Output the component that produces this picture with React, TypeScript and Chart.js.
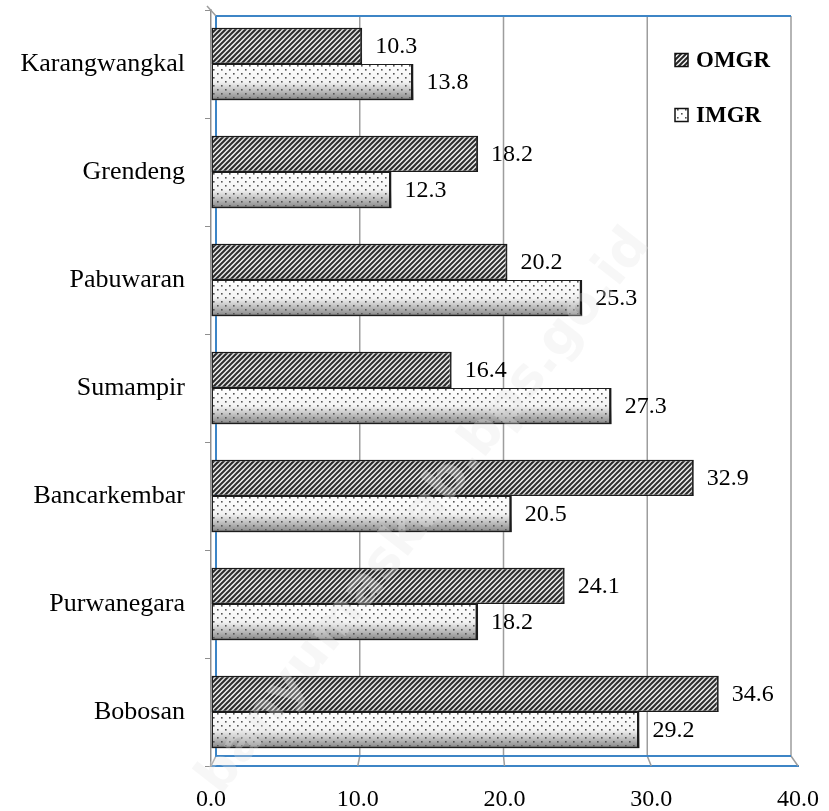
import React, { useEffect, useRef } from "react";
import { Chart, registerables } from "chart.js";
Chart.register(...registerables);

const categories = ["Karangwangkal", "Grendeng", "Pabuwaran", "Sumampir", "Bancarkembar", "Purwanegara", "Bobosan"];
const omgrValues = [10.3, 18.2, 20.2, 16.4, 32.9, 24.1, 34.6];
const imgrValues = [13.8, 12.3, 25.3, 27.3, 20.5, 18.2, 29.2];
const seriesNames = ["OMGR", "IMGR"];
const xMin = 0;
const xMax = 40;
const xStep = 10;
const watermarkText = "banyumaskab.bps.go.id";

const SERIF = "'Liberation Serif', 'Times New Roman', serif";

function makeStripe(): CanvasPattern {
  const c = document.createElement("canvas");
  c.width = 5;
  c.height = 5;
  const g = c.getContext("2d")!;
  g.fillStyle = "#f6f6f6";
  g.fillRect(0, 0, 5, 5);
  g.strokeStyle = "#262626";
  g.lineWidth = 2.0;
  g.beginPath();
  g.moveTo(-2.5, 2.5); g.lineTo(2.5, -2.5);
  g.moveTo(0, 5); g.lineTo(5, 0);
  g.moveTo(2.5, 7.5); g.lineTo(7.5, 2.5);
  g.stroke();
  return g.createPattern(c, "repeat")!;
}

function makeDots(bg: boolean): CanvasPattern {
  const c = document.createElement("canvas");
  c.width = 8;
  c.height = 8;
  const g = c.getContext("2d")!;
  if (bg) {
    g.fillStyle = "#ffffff";
    g.fillRect(0, 0, 8, 8);
  }
  g.fillStyle = "#555555";
  g.fillRect(1, 1, 1.6, 1.6);
  g.fillRect(5, 5, 1.6, 1.6);
  return g.createPattern(c, "repeat")!;
}

export default function App() {
  const ref = useRef<HTMLCanvasElement | null>(null);

  useEffect(() => {
    document.body.style.margin = "0";
    const canvas = ref.current!;
    const stripe = makeStripe();
    const dots = makeDots(false);
    const dotsLegend = makeDots(true);

    const barShading = {
      id: "barShading",
      beforeDatasetsDraw(chart: any) {
        const ctx = chart.ctx;
        const { left, right, top, bottom } = chart.chartArea;
        const xs = chart.scales.x;
        const bw = right - left;
        const depthY = 10;
        const mapX = (px: number) => left + 5 + ((px - left) * (bw - 12)) / bw;
        ctx.save();
        ctx.strokeStyle = "#9d9d9d";
        ctx.lineWidth = 1.5;
        xs.ticks.forEach((t: any) => {
          const fx = xs.getPixelForValue(t.value);
          const bx = mapX(fx);
          if (t.value !== xMin) {
            ctx.beginPath();
            ctx.moveTo(bx, top + 6);
            ctx.lineTo(bx, bottom - depthY);
            ctx.stroke();
          }
          ctx.beginPath();
          ctx.moveTo(bx, bottom - depthY);
          ctx.lineTo(fx, bottom);
          ctx.stroke();
        });
        ctx.beginPath();
        ctx.moveTo(left - 4, top - 4);
        ctx.lineTo(left + 5, top + 6);
        ctx.stroke();
        ctx.strokeStyle = "#3d85c6";
        ctx.lineWidth = 2;
        ctx.beginPath();
        ctx.moveTo(left + 5, top + 6);
        ctx.lineTo(mapX(right), top + 6);
        ctx.moveTo(left + 5, top + 6);
        ctx.lineTo(left + 5, bottom - depthY);
        ctx.lineTo(mapX(right), bottom - depthY);
        ctx.stroke();

        const meta = chart.getDatasetMeta(1);
        meta.data.forEach((el: any) => {
          const h = el.height;
          const y0 = el.y - h / 2;
          const gr = ctx.createLinearGradient(0, y0, 0, y0 + h);
          gr.addColorStop(0, "#ffffff");
          gr.addColorStop(0.5, "#f3f3f3");
          gr.addColorStop(1, "#858585");
          ctx.fillStyle = gr;
          ctx.fillRect(Math.min(el.base, el.x), y0, Math.abs(el.x - el.base), h);
        });
        ctx.restore();
      },
      afterDatasetsDraw(chart: any) {
        const ctx = chart.ctx;
        ctx.save();
        const m0 = chart.getDatasetMeta(0);
        m0.data.forEach((el: any) => {
          const h = el.height;
          const y0 = el.y - h / 2;
          const gr = ctx.createLinearGradient(0, y0, 0, y0 + h);
          gr.addColorStop(0, "rgba(0,0,0,0.15)");
          gr.addColorStop(0.5, "rgba(255,255,255,0.05)");
          gr.addColorStop(1, "rgba(0,0,0,0.12)");
          ctx.fillStyle = gr;
          ctx.fillRect(Math.min(el.base, el.x), y0, Math.abs(el.x - el.base), h);
        });
        ctx.fillStyle = "#000";
        ctx.font = `24px ${SERIF}`;
        ctx.textAlign = "left";
        ctx.textBaseline = "middle";
        chart.data.datasets.forEach((ds: any, di: number) => {
          const meta = chart.getDatasetMeta(di);
          meta.data.forEach((el: any, i: number) => {
            ctx.fillText(Number(ds.data[i]).toFixed(1), el.x + 13, el.y + 1);
          });
        });
        ctx.restore();
      },
      afterDraw(chart: any) {
        const ctx = chart.ctx;
        ctx.save();
        const items = [
          { name: seriesNames[0], fill: stripe, y: 60 },
          { name: seriesNames[1], fill: dotsLegend, y: 115 },
        ];
        items.forEach((it) => {
          ctx.fillStyle = it.fill;
          ctx.fillRect(675, it.y - 6.5, 13, 13);
          ctx.strokeStyle = "#111";
          ctx.lineWidth = 1.5;
          ctx.strokeRect(675, it.y - 6.5, 13, 13);
          ctx.fillStyle = "#000";
          ctx.font = `bold 23px ${SERIF}`;
          ctx.textAlign = "left";
          ctx.textBaseline = "middle";
          ctx.fillText(it.name, 696, it.y + 1);
        });
        ctx.translate(425, 512);
        ctx.rotate((-52 * Math.PI) / 180);
        ctx.font = "bold 52px 'DejaVu Sans', sans-serif";
        ctx.textAlign = "center";
        ctx.textBaseline = "middle";
        ctx.fillStyle = "rgba(230,230,230,0.3)";
        ctx.fillText(watermarkText, 0, 0);
        ctx.restore();
      },
    };

    const chart = new Chart(canvas, {
      type: "bar",
      data: {
        labels: categories,
        datasets: [
          {
            label: seriesNames[0],
            data: omgrValues,
            backgroundColor: stripe as any,
            borderColor: "#1c1c1c",
            borderWidth: { top: 1.5, bottom: 1.5, left: 1.5, right: 2 } as any,
            borderSkipped: false,
            categoryPercentage: 0.67,
            barPercentage: 1,
          },
          {
            label: seriesNames[1],
            data: imgrValues,
            backgroundColor: dots as any,
            borderColor: "#1c1c1c",
            borderWidth: { top: 1, bottom: 1.5, left: 1.5, right: 2.5 } as any,
            borderSkipped: false,
            categoryPercentage: 0.67,
            barPercentage: 1,
          },
        ],
      },
      options: {
        indexAxis: "y",
        responsive: false,
        animation: false,
        layout: { padding: { top: 10, right: 31, left: 0, bottom: 0 } },
        plugins: {
          legend: { display: false },
          tooltip: { enabled: false },
        },
        scales: {
          x: {
            min: xMin,
            max: xMax,
            ticks: {
              stepSize: xStep,
              color: "#000",
              font: { family: SERIF, size: 24 },
              padding: 19,
              callback: (v: any) => Number(v).toFixed(1),
            },
            grid: { drawOnChartArea: false, drawTicks: true, tickLength: 0, color: "#9d9d9d" },
            border: { color: "#3d85c6", width: 2 },
            afterFit: (s: any) => {
              s.height = 45;
              s.paddingLeft = 0;
              s.paddingRight = 0;
              s.paddingTop = 0;
              s.paddingBottom = 0;
            },
          },
          y: {
            offset: true,
            ticks: {
              color: "#000",
              font: { family: SERIF, size: 26 },
              padding: 20,
            },
            grid: { drawOnChartArea: false, tickLength: 6, color: "#8f8f8f", offset: true },
            border: { color: "#8f8f8f", width: 1.5 },
            afterFit: (s: any) => {
              s.width = 211;
              s.paddingLeft = 0;
              s.paddingRight = 0;
              s.paddingTop = 0;
              s.paddingBottom = 0;
            },
          },
        },
      },
      plugins: [barShading],
    });
    return () => chart.destroy();
  }, []);

  return (
    <div style={{ width: 829, height: 811 }}>
      <canvas ref={ref} width={829} height={811} style={{ display: "block" }} />
    </div>
  );
}
